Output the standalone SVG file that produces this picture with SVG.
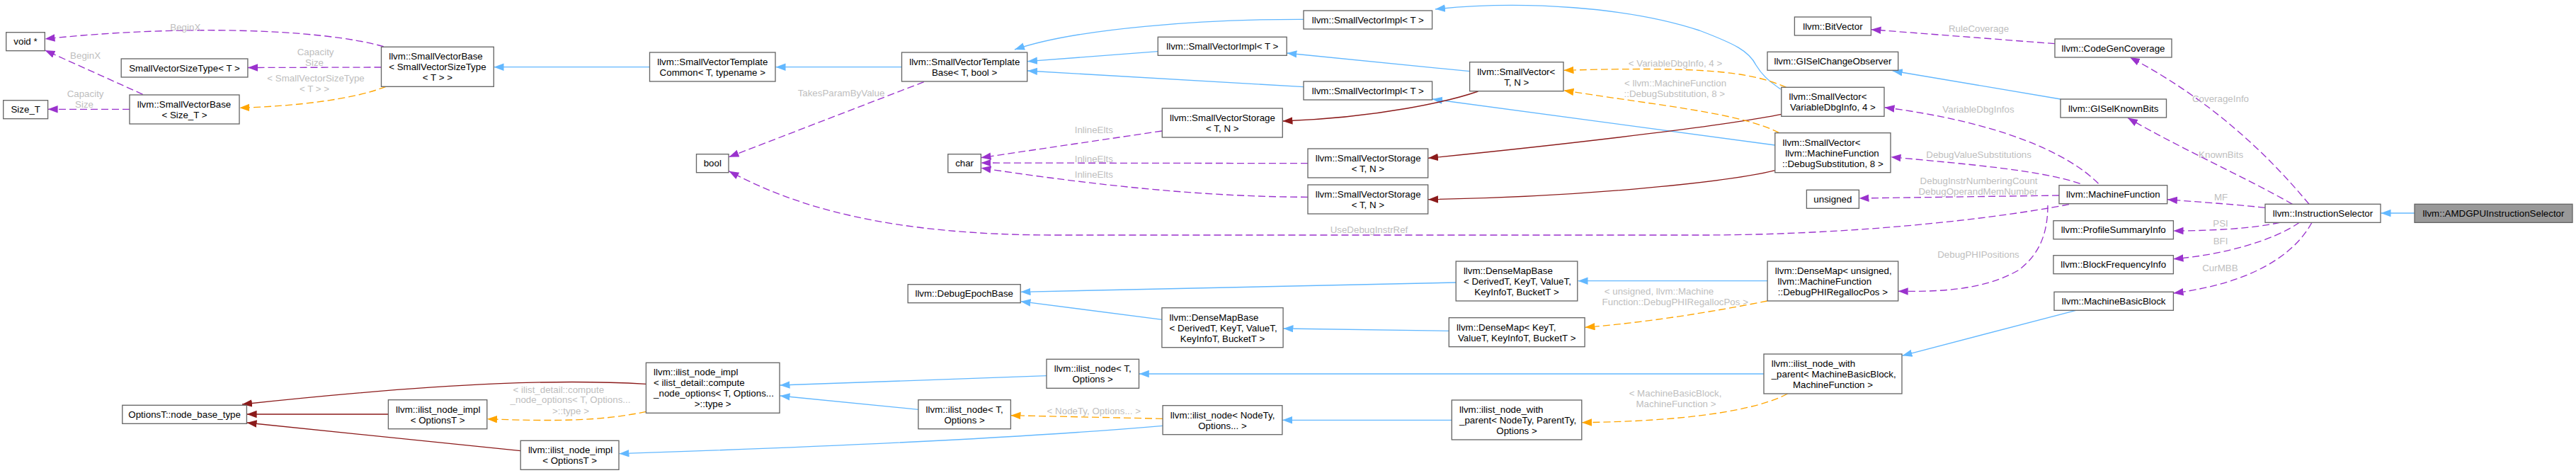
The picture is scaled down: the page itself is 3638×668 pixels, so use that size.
<svg xmlns="http://www.w3.org/2000/svg" width="3638" height="668" viewBox="0 0 3638 668">
<style>
text{font-family:"Liberation Sans",Arial,Helvetica,sans-serif;font-size:13.33px}
.node rect{fill:#ffffff;stroke:#666666;stroke-width:1.33}
.node text{fill:#000000}
.node.hl rect{fill:#999999}
.c{text-anchor:middle}
.s{text-anchor:start}
.lbl{fill:#bebebe}
#edges path{fill:none;stroke-width:1.33}
.pub{stroke:#63b8ff}
.priv{stroke:#8b1a1a}
.use{stroke:#9a32cd;stroke-dasharray:10,5}
.tmpl{stroke:#ffa500;stroke-dasharray:10,5}
#edges path.pub{marker-end:url(#ab)}
#edges path.priv{marker-end:url(#ar)}
#edges path.use{marker-end:url(#ap)}
#edges path.tmpl{marker-end:url(#ao)}
</style>
<defs>
<marker id="ab" markerUnits="userSpaceOnUse" markerWidth="16" markerHeight="12" refX="14" refY="5.25" orient="auto"><path d="M0,0 L14,5.25 L0,10.5 z" fill="#63b8ff"/></marker>
<marker id="ar" markerUnits="userSpaceOnUse" markerWidth="16" markerHeight="12" refX="14" refY="5.25" orient="auto"><path d="M0,0 L14,5.25 L0,10.5 z" fill="#8b1a1a"/></marker>
<marker id="ap" markerUnits="userSpaceOnUse" markerWidth="16" markerHeight="12" refX="14" refY="5.25" orient="auto"><path d="M0,0 L14,5.25 L0,10.5 z" fill="#9a32cd"/></marker>
<marker id="ao" markerUnits="userSpaceOnUse" markerWidth="16" markerHeight="12" refX="14" refY="5.25" orient="auto"><path d="M0,0 L14,5.25 L0,10.5 z" fill="#ffa500"/></marker>
</defs>
<rect width="3638" height="668" fill="#ffffff"/>
<g id="edges">
<path class="pub" d="M917.5,94.7 L697.5,94.7"/>
<path class="pub" d="M1273.5,94.7 L1095.5,94.7"/>
<path class="pub" d="M1841,27.3 C1700,27 1520,40 1433,70"/>
<path class="pub" d="M1635.3,72.7 L1451,86.7"/>
<path class="pub" d="M1841,122.7 L1451,100"/>
<path class="pub" d="M2075.6,100.7 L1817.4,75"/>
<path class="pub" d="M2514.7,126 C2495,112 2488,105 2480,92 C2470,72 2450,62 2400,43 C2300,10 2150,0 2027,13"/>
<path class="pub" d="M2506.8,205 L2023,140"/>
<path class="pub" d="M2910,140 L2672.8,100"/>
<path class="pub" d="M3410,301 L3362.5,301"/>
<path class="pub" d="M2056,399 L1441.5,412.3"/>
<path class="pub" d="M1641,451.3 L1441.5,425.7"/>
<path class="pub" d="M2046,467.3 L1812.5,464"/>
<path class="pub" d="M2496,396.7 L2228.5,396.7"/>
<path class="pub" d="M2491,528 L1608.8,528"/>
<path class="pub" d="M1478,530.7 L1101.5,544"/>
<path class="pub" d="M1297,578.3 L1101.5,559"/>
<path class="pub" d="M1642,601.3 C1450,618 1200,630 874.5,640.7"/>
<path class="pub" d="M2050,593.3 L1811.2,593.3"/>
<path class="pub" d="M2931.8,438.3 L2686.5,502.3"/>
<path class="priv" d="M2087.5,129 C2050,142 1950,166 1811.5,171"/>
<path class="priv" d="M2515.8,161.3 C2450,175 2250,200 2017,223.3"/>
<path class="priv" d="M2506.8,240.7 C2450,255 2250,278 2017,281.7"/>
<path class="priv" d="M912.4,542.3 C800,536 650,538 342,571"/>
<path class="priv" d="M548.4,585 L348.6,585"/>
<path class="priv" d="M735.2,636.7 L348.6,597"/>
<path class="use" d="M541.7,65.7 C450,40 250,35 63.5,55"/>
<path class="use" d="M201.7,133.3 L63.5,71"/>
<path class="use" d="M538.5,95 L350,95.5"/>
<path class="use" d="M183,154.3 L67.6,154.3"/>
<path class="use" d="M1304.8,115.7 L1029.5,221.7"/>
<path class="use" d="M2922,288.7 C2800,312 2600,332 2400,332 L1500,332 C1250,333 1120,290 1029.5,241.7"/>
<path class="use" d="M1641,185 L1385.5,222.7"/>
<path class="use" d="M1847,230.7 L1385.5,230"/>
<path class="use" d="M1847,278.3 C1700,278 1550,262 1385.5,237.3"/>
<path class="use" d="M2902,61.7 L2642.5,41.7"/>
<path class="use" d="M2963.5,259.3 C2920,215 2820,172 2661.5,151.7"/>
<path class="use" d="M2937.7,259.3 C2880,240 2780,232 2670.5,221.7"/>
<path class="use" d="M2908,276 L2625.5,280"/>
<path class="use" d="M2892,290 C2892,330 2880,360 2850,382 C2800,410 2740,412 2680.7,411.3"/>
<path class="use" d="M3261,288.3 C3200,215 3120,140 3008,81"/>
<path class="use" d="M3237.5,288.3 C3170,250 3080,210 3005,166.5"/>
<path class="use" d="M3199,293.3 C3150,288 3100,285 3061,281.7"/>
<path class="use" d="M3219.7,314.3 C3180,323 3120,326 3069.5,326"/>
<path class="use" d="M3247.3,314.3 C3210,340 3140,360 3069.5,365.7"/>
<path class="use" d="M3265,314.3 C3240,360 3180,400 3069.5,414"/>
<path class="tmpl" d="M544.9,122.3 C500,140 420,150 338.3,152.3"/>
<path class="tmpl" d="M2522.6,123.3 C2470,100 2400,94 2208.5,99.3"/>
<path class="tmpl" d="M2512.7,187.7 C2460,160 2350,150 2208.5,127.7"/>
<path class="tmpl" d="M2496,425 C2420,440 2330,455 2238.5,462.3"/>
<path class="tmpl" d="M2524.6,556 C2480,580 2380,595 2234,596.7"/>
<path class="tmpl" d="M1642,591.3 L1427.5,586.7"/>
<path class="tmpl" d="M912.4,581.3 C850,595 780,595 688,591.7"/>
<g class="lbl">
<text class="c" x="261.8" y="43">BeginX</text>
<text class="c" x="120.6" y="83">BeginX</text>
<text class="c" x="445.6" y="78">Capacity</text>
<text class="c" x="444" y="93">Size</text>
<text class="c" x="120.6" y="137.4">Capacity</text>
<text class="c" x="119" y="152">Size</text>
<text class="c" x="446" y="114.7">&lt; SmallVectorSizeType</text>
<text class="c" x="444" y="129.7">&lt; T &gt; &gt;</text>
<text class="c" x="1188" y="136.4">TakesParamByValue</text>
<text class="c" x="1544.8" y="188">InlineElts</text>
<text class="c" x="1544.8" y="229">InlineElts</text>
<text class="c" x="1544.8" y="251.4">InlineElts</text>
<text class="c" x="1933.5" y="328.7">UseDebugInstrRef</text>
<text class="c" x="2366" y="93.7">&lt; VariableDbgInfo, 4 &gt;</text>
<text class="s" x="2294" y="122.4">&lt; llvm::MachineFunction</text>
<text class="s" x="2293.5" y="137.4">::DebugSubstitution, 8 &gt;</text>
<text class="c" x="2794.6" y="45.4">RuleCoverage</text>
<text class="c" x="2794" y="159">VariableDbgInfos</text>
<text class="c" x="2794.6" y="223.4">DebugValueSubstitutions</text>
<text class="c" x="2794.6" y="260.4">DebugInstrNumberingCount</text>
<text class="c" x="2793.5" y="275.4">DebugOperandMemNumber</text>
<text class="c" x="2794" y="364.4">DebugPHIPositions</text>
<text class="c" x="3136" y="144">CoverageInfo</text>
<text class="c" x="3136.6" y="223">KnownBits</text>
<text class="c" x="3136.6" y="283">MF</text>
<text class="c" x="3136" y="319.7">PSI</text>
<text class="c" x="3136" y="344.7">BFI</text>
<text class="c" x="3135.4" y="383">CurMBB</text>
<text class="s" x="2265.8" y="416.4">&lt; unsigned, llvm::Machine</text>
<text class="s" x="2262.6" y="431.4">Function::DebugPHIRegallocPos &gt;</text>
<text class="c" x="2366" y="560.4">&lt; MachineBasicBlock,</text>
<text class="c" x="2367" y="575.4">MachineFunction &gt;</text>
<text class="c" x="1544.8" y="585.4">&lt; NodeTy, Options... &gt;</text>
<text class="s" x="724.6" y="554.7">&lt; ilist_detail::compute</text>
<text class="s" x="720.6" y="569.4">_node_options&lt; T, Options...</text>
<text class="c" x="806" y="584.7">&gt;::type &gt;</text>
</g>
</g>
<g id="n_void" class="node"><rect x="8.7" y="45.7" width="54.6" height="26"/><text class="c" x="36" y="63.4">void *</text></g>
<g id="n_svst" class="node"><rect x="171.2" y="83" width="178.7" height="26"/><text class="c" x="260.5" y="100.7">SmallVectorSizeType&lt; T &gt;</text></g>
<g id="n_sizet" class="node"><rect x="4.7" y="141.7" width="62.9" height="26"/><text class="c" x="36.2" y="159.4">Size_T</text></g>
<g id="n_svb_sizet" class="node"><rect x="183" y="134" width="155" height="41"/><text class="s" x="193.7" y="152">llvm::SmallVectorBase</text><text class="c" x="260.5" y="167">&lt; Size_T &gt;</text></g>
<g id="n_svb_svst" class="node"><rect x="538.5" y="66.3" width="158.8" height="56"/><text class="s" x="549.2" y="84.3">llvm::SmallVectorBase</text><text class="s" x="549.2" y="99.3">&lt; SmallVectorSizeType</text><text class="c" x="617.9" y="114.3">&lt; T &gt; &gt;</text></g>
<g id="n_svtc" class="node"><rect x="917.5" y="74" width="177.5" height="41"/><text class="s" x="928.2" y="92">llvm::SmallVectorTemplate</text><text class="c" x="1006.3" y="107">Common&lt; T, typename &gt;</text></g>
<g id="n_bool" class="node"><rect x="983.5" y="217.7" width="45.5" height="26"/><text class="c" x="1006.3" y="235.4">bool</text></g>
<g id="n_svtb" class="node"><rect x="1273.5" y="74" width="177.2" height="41"/><text class="s" x="1284.2" y="92">llvm::SmallVectorTemplate</text><text class="c" x="1362.1" y="107">Base&lt; T, bool &gt;</text></g>
<g id="n_char" class="node"><rect x="1338.8" y="217.7" width="46.6" height="26"/><text class="c" x="1362.1" y="235.4">char</text></g>
<g id="n_svimpl_a" class="node"><rect x="1841" y="15" width="181.6" height="26"/><text class="c" x="1931.8" y="32.7">llvm::SmallVectorImpl&lt; T &gt;</text></g>
<g id="n_svimpl_b" class="node"><rect x="1635.3" y="52.3" width="181.9" height="26"/><text class="c" x="1726.3" y="70">llvm::SmallVectorImpl&lt; T &gt;</text></g>
<g id="n_svimpl_c" class="node"><rect x="1841" y="115" width="181.6" height="26"/><text class="c" x="1931.8" y="132.7">llvm::SmallVectorImpl&lt; T &gt;</text></g>
<g id="n_sv_t_n" class="node"><rect x="2075.6" y="87.7" width="132.4" height="41"/><text class="s" x="2086.3" y="105.7">llvm::SmallVector&lt;</text><text class="c" x="2141.8" y="120.7">T, N &gt;</text></g>
<g id="n_svs1" class="node"><rect x="1641.3" y="153" width="170" height="41"/><text class="s" x="1652" y="171">llvm::SmallVectorStorage</text><text class="c" x="1726.3" y="186">&lt; T, N &gt;</text></g>
<g id="n_svs2" class="node"><rect x="1847" y="210" width="169.7" height="41"/><text class="s" x="1857.7" y="228">llvm::SmallVectorStorage</text><text class="c" x="1931.9" y="243">&lt; T, N &gt;</text></g>
<g id="n_svs3" class="node"><rect x="1847" y="261" width="169.7" height="41"/><text class="s" x="1857.7" y="279">llvm::SmallVectorStorage</text><text class="c" x="1931.9" y="294">&lt; T, N &gt;</text></g>
<g id="n_sv_vdi" class="node"><rect x="2515.8" y="123.3" width="145.2" height="41"/><text class="s" x="2526.5" y="141.3">llvm::SmallVector&lt;</text><text class="c" x="2588.4" y="156.3">VariableDbgInfo, 4 &gt;</text></g>
<g id="n_sv_ds" class="node"><rect x="2506.8" y="187.7" width="163.2" height="56"/><text class="s" x="2517.5" y="205.7">llvm::SmallVector&lt;</text><text class="s" x="2521.2" y="220.7">llvm::MachineFunction</text><text class="c" x="2588.4" y="235.7">::DebugSubstitution, 8 &gt;</text></g>
<g id="n_bitvector" class="node"><rect x="2534.4" y="24" width="108" height="26"/><text class="c" x="2588.4" y="41.7">llvm::BitVector</text></g>
<g id="n_giselco" class="node"><rect x="2496" y="73.3" width="184.7" height="26"/><text class="c" x="2588.4" y="91">llvm::GISelChangeObserver</text></g>
<g id="n_unsigned" class="node"><rect x="2551.4" y="268.3" width="74" height="26"/><text class="c" x="2588.4" y="286">unsigned</text></g>
<g id="n_cgc" class="node"><rect x="2902" y="55" width="165" height="26"/><text class="c" x="2984.5" y="72.7">llvm::CodeGenCoverage</text></g>
<g id="n_gkb" class="node"><rect x="2910" y="140" width="149.5" height="26"/><text class="c" x="2984.8" y="157.7">llvm::GISelKnownBits</text></g>
<g id="n_mf" class="node"><rect x="2908" y="261.7" width="152.7" height="26"/><text class="c" x="2984.4" y="279.4">llvm::MachineFunction</text></g>
<g id="n_psi" class="node"><rect x="2900" y="311.7" width="169.4" height="26"/><text class="c" x="2984.7" y="329.4">llvm::ProfileSummaryInfo</text></g>
<g id="n_bfi" class="node"><rect x="2900" y="360.7" width="169.4" height="26"/><text class="c" x="2984.7" y="378.4">llvm::BlockFrequencyInfo</text></g>
<g id="n_mbb" class="node"><rect x="2901" y="412.3" width="168.4" height="26"/><text class="c" x="2985.2" y="430">llvm::MachineBasicBlock</text></g>
<g id="n_is" class="node"><rect x="3199" y="288.3" width="163" height="26"/><text class="c" x="3280.5" y="306">llvm::InstructionSelector</text></g>
<g id="n_amdgpu" class="node hl"><rect x="3410" y="288.3" width="223" height="26"/><text class="c" x="3521.5" y="306">llvm::AMDGPUInstructionSelector</text></g>
<g id="n_deb" class="node"><rect x="1282.2" y="401.7" width="159" height="26"/><text class="c" x="1361.7" y="419.4">llvm::DebugEpochBase</text></g>
<g id="n_dmb1" class="node"><rect x="1640.9" y="434.7" width="171.2" height="56"/><text class="s" x="1651.6" y="452.7">llvm::DenseMapBase</text><text class="s" x="1651.6" y="467.7">&lt; DerivedT, KeyT, ValueT,</text><text class="c" x="1726.5" y="482.7">KeyInfoT, BucketT &gt;</text></g>
<g id="n_dmb2" class="node"><rect x="2056.2" y="369" width="171.6" height="56"/><text class="s" x="2066.9" y="387">llvm::DenseMapBase</text><text class="s" x="2066.9" y="402">&lt; DerivedT, KeyT, ValueT,</text><text class="c" x="2142" y="417">KeyInfoT, BucketT &gt;</text></g>
<g id="n_dm_keyt" class="node"><rect x="2046.3" y="448.7" width="191.8" height="41"/><text class="s" x="2057" y="466.7">llvm::DenseMap&lt; KeyT,</text><text class="c" x="2142.2" y="481.7">ValueT, KeyInfoT, BucketT &gt;</text></g>
<g id="n_dm_unsigned" class="node"><rect x="2496.1" y="369" width="184.6" height="56"/><text class="s" x="2506.8" y="387">llvm::DenseMap&lt; unsigned,</text><text class="s" x="2510.5" y="402">llvm::MachineFunction</text><text class="c" x="2588.4" y="417">::DebugPHIRegallocPos &gt;</text></g>
<g id="n_inwp_nodety" class="node"><rect x="2050.3" y="565" width="183.5" height="56"/><text class="s" x="2061" y="583">llvm::ilist_node_with</text><text class="s" x="2061" y="598">_parent&lt; NodeTy, ParentTy,</text><text class="c" x="2142" y="613">Options &gt;</text></g>
<g id="n_inwp_mbb" class="node"><rect x="2491" y="500" width="195" height="56"/><text class="s" x="2501.7" y="518">llvm::ilist_node_with</text><text class="s" x="2501.7" y="533">_parent&lt; MachineBasicBlock,</text><text class="c" x="2588.5" y="548">MachineFunction &gt;</text></g>
<g id="n_in_t_upper" class="node"><rect x="1478" y="507.3" width="130.5" height="41"/><text class="s" x="1488.7" y="525.3">llvm::ilist_node&lt; T,</text><text class="c" x="1543.2" y="540.3">Options &gt;</text></g>
<g id="n_in_t_lower" class="node"><rect x="1296.9" y="564.7" width="130.5" height="41"/><text class="s" x="1307.6" y="582.7">llvm::ilist_node&lt; T,</text><text class="c" x="1362.1" y="597.7">Options &gt;</text></g>
<g id="n_in_nodety" class="node"><rect x="1642.1" y="572.7" width="168.8" height="41"/><text class="s" x="1652.8" y="590.7">llvm::ilist_node&lt; NodeTy,</text><text class="c" x="1726.5" y="605.7">Options... &gt;</text></g>
<g id="n_ini_compute" class="node"><rect x="912.4" y="512.3" width="188.6" height="71"/><text class="s" x="923.1" y="530.3">llvm::ilist_node_impl</text><text class="s" x="923.1" y="545.3">&lt; ilist_detail::compute</text><text class="s" x="923.1" y="560.3">_node_options&lt; T, Options...</text><text class="c" x="1006.7" y="575.3">&gt;::type &gt;</text></g>
<g id="n_ini_opt_upper" class="node"><rect x="548.4" y="564.7" width="139.4" height="41"/><text class="s" x="559.1" y="582.7">llvm::ilist_node_impl</text><text class="c" x="618.1" y="597.7">&lt; OptionsT &gt;</text></g>
<g id="n_ini_opt_lower" class="node"><rect x="735.2" y="622.3" width="138.8" height="41"/><text class="s" x="745.9" y="640.3">llvm::ilist_node_impl</text><text class="c" x="804.6" y="655.3">&lt; OptionsT &gt;</text></g>
<g id="n_optnbt" class="node"><rect x="172.8" y="572.3" width="175.6" height="26"/><text class="c" x="260.6" y="590">OptionsT::node_base_type</text></g>
</svg>
